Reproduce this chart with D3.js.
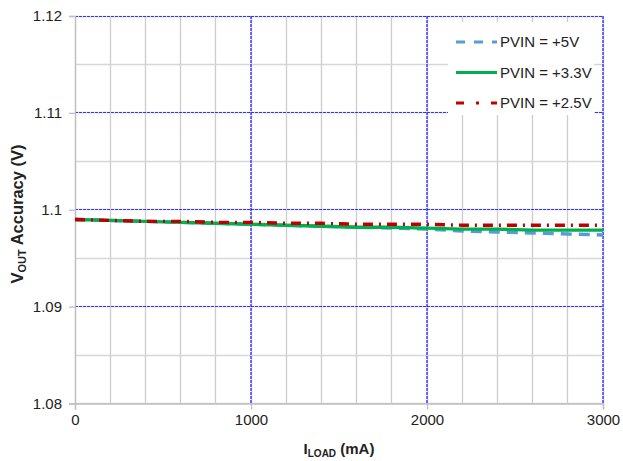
<!DOCTYPE html>
<html><head><meta charset="utf-8">
<script src="https://cdn.jsdelivr.net/npm/d3@7"></script>
<style>body{margin:0;background:#fff;}svg{display:block;font-family:"Liberation Sans",Arial,sans-serif;}</style>
</head><body>
<svg id="c" width="623" height="461"></svg>
<script>
const loads = [0,200,400,600,800,1000,1200,1400,1600,1800,2000,2200,2400,2600,2800,3000];
const pvin5 = [1.0990,1.0989,1.0988,1.0987,1.0986,1.0985,1.0984,1.0983,1.0982,1.0981,1.0980,1.0978,1.0977,1.0976,1.0975,1.0974];
const pvin33 = [1.0990,1.0989,1.0988,1.0987,1.0986,1.0985,1.0984,1.0983,1.0982,1.0982,1.0981,1.0980,1.0980,1.0979,1.0979,1.0979];
const pvin25 = [1.0990,1.0989,1.0988,1.0988,1.0987,1.0987,1.0986,1.0986,1.0985,1.0985,1.0985,1.0984,1.0984,1.0984,1.0984,1.0984];
const seriesNames = ["PVIN = +5V","PVIN = +3.3V","PVIN = +2.5V"];
const xTicks = [0,1000,2000,3000];
const yTicks = [1.08,1.09,1.1,1.11,1.12];
const yTickLabels = ["1.08","1.09","1.1","1.11","1.12"];

const svg = d3.select("#c");
const L=75,R=603,T=16,B=403.5;
const x = d3.scaleLinear().domain([0,3000]).range([L,R]);
const y = d3.scaleLinear().domain([1.08,1.12]).range([B,T]);
const px = v => Math.floor(v)+0.5;

// minor grid
const g = svg.append("g");
g.selectAll(".vx").data(d3.range(0,3001,200)).join("line")
 .attr("x1",d=>px(x(d))).attr("x2",d=>px(x(d))).attr("y1",T).attr("y2",B)
 .attr("stroke","#cccccc").attr("stroke-width",1.3);
g.selectAll(".hy").data(d3.range(0,9).map(i=>1.08+i*0.005)).join("line")
 .attr("x1",L).attr("x2",R).attr("y1",d=>px(y(d))).attr("y2",d=>px(y(d)))
 .attr("stroke","#d6d6d6").attr("stroke-width",1.3);

// horizontal major grid (blue dotted)
svg.append("g").selectAll(".my").data([1.09,1.1,1.11,1.12]).join("line")
 .attr("x1",L).attr("x2",R).attr("y1",d=>px(y(d))).attr("y2",d=>px(y(d)))
 .attr("stroke","#3535ff").attr("stroke-width",1).attr("stroke-dasharray","3,1")
 .attr("shape-rendering","crispEdges");

// legend background
svg.append("rect").attr("x",448).attr("y",22).attr("width",146).attr("height",93).attr("fill","#fff");

// vertical major grid (blue dotted)
svg.append("g").selectAll(".mx").data([1000,2000,3000]).join("line")
 .attr("x1",d=>Math.round(x(d))).attr("x2",d=>Math.round(x(d))).attr("y1",T).attr("y2",B)
 .attr("stroke","#3535ff").attr("stroke-width",1.4).attr("stroke-dasharray","3,1");

// axes
const ax = svg.append("g").attr("transform",`translate(0,${B})`)
 .call(d3.axisBottom(x).tickValues(xTicks).tickSize(6).tickPadding(5).tickFormat(d3.format("d")));
const ay = svg.append("g").attr("transform",`translate(${L},0)`)
 .call(d3.axisLeft(y).tickValues(yTicks).tickSize(6).tickPadding(7).tickFormat((d,i)=>yTickLabels[i]));
[ax,ay].forEach(a=>{
  a.selectAll("path.domain").attr("stroke","#bfbfbf").attr("stroke-width",1.3);
  a.selectAll(".tick line").attr("stroke","#bfbfbf").attr("stroke-width",1.3);
  a.selectAll("text").attr("fill","#222").style("font-size","15px").style("font-family","Liberation Sans, Arial, sans-serif");
});

// lines
const data = [pvin5,pvin33,pvin25];
const styles = [
 {c:"#5b9bd5",w:3.4,dash:"11,7"},
 {c:"#00b050",w:3.4,dash:null},
 {c:"#c00000",w:3.4,dash:"10,6,2,6"}
];
const line = d3.line().x(d=>x(d[0])).y(d=>y(d[1]));
[0,1,2].forEach(i=>{
  const p = svg.append("path").datum(loads.map((l,j)=>[l,data[i][j]]))
   .attr("d",line).attr("fill","none").attr("stroke",styles[i].c).attr("stroke-width",styles[i].w);
  if(styles[i].dash) p.attr("stroke-dasharray",styles[i].dash);
});

// legend
const lg = svg.append("g");
seriesNames.forEach((n,i)=>{
  const yy = 42+i*30.5;
  const l = lg.append("line").attr("x1",456).attr("x2",497).attr("y1",yy).attr("y2",yy)
   .attr("stroke",styles[i].c).attr("stroke-width",3.2);
  if(styles[i].dash) l.attr("stroke-dasharray", i===0?"9,9":"8,12,3,12");
  lg.append("text").attr("x",500).attr("y",yy+5).text(n).attr("fill","#222").style("font-size","15px");
});

// axis titles
const yt = svg.append("text").attr("transform","translate(23,214) rotate(-90)").attr("text-anchor","middle")
 .style("font-size","16.5px").style("font-weight","bold").attr("fill","#222");
yt.append("tspan").text("V");
yt.append("tspan").text("OUT").style("font-size","11px").attr("dy",3);
yt.append("tspan").text(" Accuracy (V)").attr("dy",-3);
const xt = svg.append("text").attr("x",339).attr("y",454).attr("text-anchor","middle")
 .style("font-size","15px").style("font-weight","bold").attr("fill","#222");
xt.append("tspan").text("I");
xt.append("tspan").text("LOAD").style("font-size","10px").attr("dy",3);
xt.append("tspan").text(" (mA)").attr("dy",-3);
</script>
</body></html>
